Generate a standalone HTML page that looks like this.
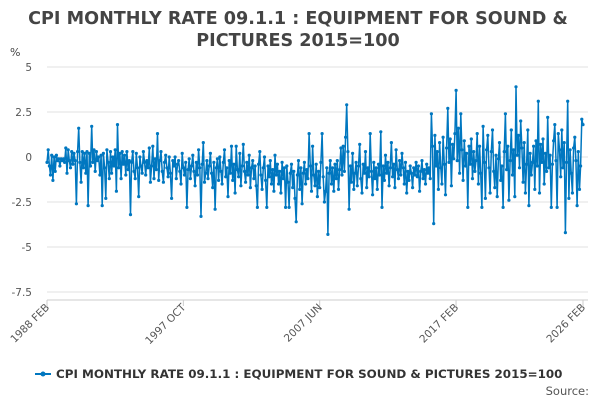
<!DOCTYPE html>
<html><head><meta charset="utf-8"><style>
body{margin:0;background:#fff;font-family:"DejaVu Sans",sans-serif}
svg text{font-family:"DejaVu Sans",sans-serif}
</style></head><body>
<svg id="chart" width="600" height="400" viewBox="0 0 600 400">
<text x="298" y="24" text-anchor="middle" font-size="17.6" font-weight="bold" fill="#444">CPI MONTHLY RATE 09.1.1 : EQUIPMENT FOR SOUND &amp;</text>
<text x="298" y="46" text-anchor="middle" font-size="17.6" font-weight="bold" fill="#444">PICTURES 2015=100</text>
<text x="10" y="56" font-size="11" fill="#444">%</text>
<g id="grid"></g><g id="yl"></g><g id="xl"></g><g id="series"></g>
<g>
<line x1="35" y1="374" x2="51" y2="374" stroke="#0077c0" stroke-width="2"/>
<circle cx="43" cy="374" r="2.5" fill="#0077c0"/>
<text x="56" y="378" font-size="11.9" font-weight="bold" fill="#333">CPI MONTHLY RATE 09.1.1 : EQUIPMENT FOR SOUND &amp; PICTURES 2015=100</text>
</g>
<text x="589" y="395" text-anchor="end" font-size="11.5" fill="#555">Source:</text>
</svg>
<script>
const values=[-0.3,0.4,-0.5,-1.0,0.1,-1.3,0.0,-0.8,0.1,-0.2,-0.1,-0.5,
-0.1,-0.2,-0.1,-0.3,0.5,-0.9,0.4,-0.2,-0.6,0.3,-0.4,0.2,
-0.2,-2.6,0.3,1.6,-0.3,-1.4,0.3,-0.6,0.2,-0.9,0.3,-2.7,
0.2,-0.5,1.7,-0.3,0.4,-0.8,0.3,-0.2,0.0,-1.0,0.1,-2.7,
0.2,-0.6,-2.3,0.4,-0.3,-1.2,0.3,-0.9,0.0,-0.5,0.4,-1.9,
1.8,-0.6,0.2,-1.2,0.3,-0.4,0.1,-1.0,0.3,-0.7,-0.2,-3.2,
-0.3,0.3,-0.8,-1.2,0.2,-0.6,-2.2,0.0,-0.5,-0.9,0.3,-0.3,
-1.0,-0.2,-0.6,0.5,-1.4,-0.5,0.6,-1.2,-0.1,-0.7,1.3,-1.3,
-0.2,0.3,-0.8,-1.4,-0.3,0.1,-0.6,-1.1,0.0,-0.9,-2.3,-0.2,
-0.5,0.0,-1.2,-0.4,-0.2,-0.8,-1.5,0.2,-0.6,-1.0,-0.3,-2.8,
-0.7,-0.1,-1.2,-0.5,0.1,-0.8,-1.6,-0.3,-1.0,0.4,-0.6,-3.3,
-0.4,0.8,-1.4,-0.9,-0.2,-1.2,-0.5,0.2,-0.9,-1.7,-0.3,-2.9,
-0.6,-0.1,-1.3,0.0,-0.8,-1.5,-0.3,0.4,-1.1,-0.6,-2.2,-0.2,
-0.9,0.6,-1.3,-0.4,-2.0,0.6,-0.7,-1.1,0.2,-1.6,-0.5,0.7,
-0.8,-1.4,-0.3,-1.0,0.1,-1.7,-0.6,-0.2,-1.2,-0.5,-1.6,-2.8,
-0.4,0.3,-1.0,-1.8,-0.6,0.0,-1.3,-2.8,-0.5,-1.1,-0.2,-1.5,
-0.7,-1.9,0.1,-1.0,-0.4,-1.5,-0.8,-2.0,-0.3,-1.2,-0.6,-2.8,
-0.5,-1.4,-2.8,-0.9,-0.4,-1.7,-0.8,-2.3,-3.6,-1.0,-0.2,-1.8,
-0.6,-2.6,-0.9,-0.3,-1.5,-0.7,-1.2,1.3,-0.5,-1.9,0.6,-1.0,
-1.6,-0.4,-2.2,-0.8,-1.7,-0.3,1.3,-1.1,-2.5,-1.9,-0.6,-4.3,
-0.9,-0.2,-1.5,-0.6,-1.9,-0.4,-1.2,-0.2,-1.8,-0.7,0.5,-1.0,
0.6,-0.8,1.1,2.9,0.3,-2.9,-0.5,-1.4,0.2,-1.8,-0.9,-0.3,
-1.6,-0.5,0.7,-1.2,-2.0,-0.4,-0.9,0.3,-1.7,-0.6,-1.1,1.3,
-0.8,-2.1,-0.3,-1.2,-0.6,-1.8,-0.4,-1.0,1.4,-2.8,-0.5,-1.3,
0.1,-0.9,-0.3,-1.6,-0.6,0.8,-1.1,-0.4,-1.7,0.4,-0.7,-1.2,
-0.2,-1.0,0.2,-0.6,-1.5,-0.3,-2.0,-0.8,-1.3,-0.5,-0.9,-1.7,
-0.6,-1.0,-0.3,-1.1,-0.5,-1.9,-0.8,-0.2,-1.2,-0.7,-1.5,-0.4,
-0.9,-0.6,-1.2,2.4,0.6,-3.7,1.2,-0.5,0.3,-1.8,0.8,-0.6,
-1.5,1.1,-0.4,-2.1,0.5,2.7,-0.3,1.0,-1.6,0.7,-0.1,1.3,
3.7,-0.2,1.6,-0.9,2.4,0.4,-1.3,0.9,-0.5,0.2,-2.8,0.6,
-0.4,1.0,-1.2,0.3,-0.8,-0.2,1.3,-1.5,0.6,-0.9,-2.8,1.7,
-0.3,-2.3,0.4,1.2,-0.6,-2.0,0.3,1.5,-0.8,-1.7,0.1,-2.2,
-0.1,0.8,-1.3,-0.5,-2.8,0.3,2.4,-0.7,0.6,-2.4,-0.2,1.5,
-1.0,0.4,-2.2,3.9,0.1,1.2,-0.6,2.0,0.5,-1.4,0.8,-2.0,
-0.4,1.5,-2.7,0.2,-1.0,-0.3,0.6,-1.8,0.9,-0.5,3.1,-2.0,
0.7,-0.3,1.0,-1.5,0.2,-0.8,2.2,-0.6,0.1,-2.8,-0.4,0.9,
1.8,-0.2,-2.8,1.3,0.4,-1.1,1.5,-0.6,0.8,-4.2,-0.3,3.1,
-2.3,0.4,-0.9,-2.0,0.5,1.1,-0.2,-2.7,0.3,-1.8,-0.5,2.1,1.8];
const yTicks=[5,2.5,0,-2.5,-5,-7.5];
const yTickLabels=["5","2.5","0","-2.5","-5","-7.5"];
const xTickIdx=[0,116,232,348,456];
const xTickLabels=["1988 FEB","1997 OCT","2007 JUN","2017 FEB","2026 FEB"];
const NS="http://www.w3.org/2000/svg";
const X0=47,X1=583,Y5=67,PU=18;
const xs=i=>X0+(X1-X0)*i/(values.length-1);
const ys=v=>Y5+(5-v)*PU;
function mk(t,a,p){const e=document.createElementNS(NS,t);for(const k in a)e.setAttribute(k,a[k]);p.appendChild(e);return e;}
const grid=document.getElementById('grid'),yl=document.getElementById('yl'),xl=document.getElementById('xl'),ser=document.getElementById('series');
yTicks.forEach((v,i)=>{
 const l=mk('line',{x1:X0,x2:X1+5,y1:ys(v),y2:ys(v),stroke:'#e0e0e0','stroke-width':1},grid);
 
 
 const t=mk('text',{x:32,y:ys(v)+4,'text-anchor':'end','font-size':10.5,fill:'#555'},yl);
 t.textContent=yTickLabels[i];
 
 
});
const ax=mk('line',{x1:X0,x2:X1+5,y1:300,y2:300,stroke:'#ccc','stroke-width':1},grid);


xTickIdx.forEach((idx,i)=>{
 const x=xs(idx);
 const tk=mk('line',{x1:x,x2:x,y1:300,y2:306,stroke:'#ccc'},xl);
 
 
 const t=mk('text',{x:x+3,y:308,'text-anchor':'end','font-size':10.5,fill:'#555',transform:`rotate(-45 ${x+3} 308)`},xl);
 t.textContent=xTickLabels[i];
 
 
});
const path=mk('polyline',{points:values.map((v,i)=>xs(i).toFixed(1)+','+ys(v).toFixed(1)).join(' '),fill:'none',stroke:'#0077c0','stroke-width':1.5,'stroke-linejoin':'round'},ser);


values.forEach((v,i)=>{
 const c=mk('circle',{cx:xs(i).toFixed(1),cy:ys(v).toFixed(1),r:1.6,fill:'#0077c0'},ser);
 
 
});
</script>
</body></html>
